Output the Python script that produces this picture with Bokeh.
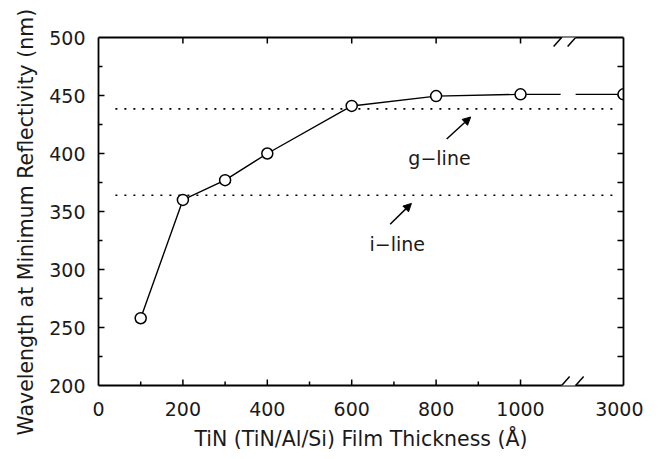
from bokeh.plotting import figure
from bokeh.models import (FixedTicker, LinearAxis, Label, Arrow, NormalHead,
                          BoxAnnotation, Range1d, CustomJSTickFormatter, Title)
from bokeh.embed import file_html
from bokeh.resources import INLINE

# ---- data ----
thickness = [100, 200, 300, 400, 600, 800, 1000, 3000]      # Å
wavelength = [258, 360, 377, 400, 441, 449.5, 451, 451]     # nm
g_line = 438.5   # nm
i_line = 364     # nm
x_tick_labels = ["0", "200", "400", "600", "800", "1000", "3000"]
x_title = "TiN (TiN/Al/Si) Film Thickness (Å)"
y_title = "Wavelength at Minimum Reflectivity (nm)"

# ---- broken axis: values up to 1000 are linear, 3000 sits at the right edge ----
XEND = 1244          # display position of 3000
BREAK_X = 1114       # position of the axis break
def xmap(v):
    return v if v <= 1000 else XEND

FRAME_W, FRAME_H = 525, 348
YMIN, YMAX = 200, 500
ux = XEND / FRAME_W
uy = (YMAX - YMIN) / FRAME_H

FONT = "DejaVu Sans"
TXT = "#1a1a1a"

p = figure(frame_width=FRAME_W, frame_height=FRAME_H,
           x_range=Range1d(0, XEND), y_range=Range1d(YMIN, YMAX),
           output_backend="svg", toolbar_location=None,
           min_border_left=98, min_border_top=37, min_border_right=20, min_border_bottom=66)
p.outline_line_color = None
p.xgrid.visible = False
p.ygrid.visible = False
p.background_fill_color = "white"
p.border_fill_color = "white"

xt_major = [0, 200, 400, 600, 800, 1000, XEND]
xt_minor = [100, 300, 500, 700, 900]
top_ticks = [200, 400, 600, 800, 1000]
yt_major = [200, 250, 300, 350, 400, 450, 500]
yt_minor = [225, 275, 325, 375, 425, 475]

def style_axis(ax):
    ax.axis_line_width = 1.8
    ax.axis_line_color = "black"
    ax.major_tick_in = 0
    ax.major_tick_out = 0
    ax.minor_tick_in = 0
    ax.minor_tick_out = 0
    ax.major_label_text_font = FONT
    ax.major_label_text_font_size = "19px"
    ax.major_label_text_color = TXT
    ax.axis_label_text_font = FONT
    ax.axis_label_text_font_size = "20.5px"
    ax.axis_label_text_font_style = "normal"
    ax.axis_label_text_color = TXT

xa = p.xaxis[0]
xa.ticker = FixedTicker(ticks=xt_major, minor_ticks=xt_minor)
xa.major_label_overrides = {t: lab for t, lab in zip(xt_major, x_tick_labels)}
xa.axis_label = x_title
style_axis(xa)
xa.major_label_standoff = 16
xa.axis_label_standoff = 8

ya = p.yaxis[0]
ya.ticker = FixedTicker(ticks=yt_major, minor_ticks=yt_minor)
style_axis(ya)
ya.major_label_standoff = 13

blank = CustomJSTickFormatter(code="return ''")
top = LinearAxis(ticker=FixedTicker(ticks=top_ticks, minor_ticks=[]), formatter=blank)
style_axis(top)
top.major_label_text_font_size = "0px"
top.major_label_standoff = 0
p.add_layout(top, "above")

right = LinearAxis(ticker=FixedTicker(ticks=yt_major, minor_ticks=yt_minor), formatter=blank)
style_axis(right)
right.major_label_text_font_size = "0px"
right.major_label_standoff = 0
p.add_layout(right, "right")

# y-axis title as a side title so that it can be shifted along the axis
p.add_layout(Title(text=y_title, align="left", offset=-50, standoff=18,
                   text_font=FONT, text_font_size="20.5px", text_font_style="normal",
                   text_color=TXT), "left")

# inward tick marks (drawn as segments inside the frame)
TK = dict(line_color="black", line_width=1.5)
maj, mnr = 6, 4
bx = xt_major[1:-1] + xt_minor
blen = [maj] * (len(xt_major) - 2) + [mnr] * len(xt_minor)
p.segment(x0=bx, y0=[YMIN] * len(bx), x1=bx, y1=[YMIN + l * uy for l in blen], **TK)
p.segment(x0=top_ticks, y0=[YMAX] * len(top_ticks), x1=top_ticks,
          y1=[YMAX - maj * uy] * len(top_ticks), **TK)
ly = yt_major[1:-1] + yt_minor
llen = [maj] * (len(yt_major) - 2) + [mnr] * len(yt_minor)
p.segment(x0=[0] * len(ly), y0=ly, x1=[l * ux for l in llen], y1=ly, **TK)
p.segment(x0=[XEND] * len(ly), y0=ly, x1=[XEND - maj * ux] * len(ly), y1=ly, **TK)

# reference lines
p.line([40, 1230], [g_line, g_line], line_color="black", line_width=1.6, line_dash="2 7")
p.line([40, 1230], [i_line, i_line], line_color="black", line_width=1.6, line_dash="2 7")

# data
xs = [xmap(v) for v in thickness]
p.line(xs, wavelength, line_color="black", line_width=1.4)
# gap in the data line at the axis break
p.add_layout(BoxAnnotation(left=BREAK_X - 8 * ux, right=BREAK_X + 7 * ux,
                           bottom=wavelength[-1] - 6, top=wavelength[-1] + 6,
                           fill_color="white", fill_alpha=1, line_color=None))
p.scatter(xs, wavelength, size=11, marker="circle", fill_color="white",
          line_color="black", line_width=1.5)

# axis-break marks on top and bottom axes
for Y in (YMIN, YMAX):
    p.add_layout(Arrow(x_start=BREAK_X - 7 * ux, y_start=Y, x_end=BREAK_X + 7 * ux, y_end=Y,
                       end=None, line_color="white", line_width=5, level="overlay"))
    for off in (-7, 7):
        c = BREAK_X + off * ux
        p.add_layout(Arrow(x_start=c - 8 * ux, y_start=Y - 9 * uy,
                           x_end=c + 8 * ux, y_end=Y + 9 * uy,
                           end=None, line_color="black", line_width=1.5, level="overlay"))

# annotations
p.add_layout(Label(x=808, y=396, text="g−line", text_font=FONT, text_font_size="19px",
                   text_color=TXT, text_align="center", text_baseline="middle"))
p.add_layout(Label(x=708, y=322, text="i−line", text_font=FONT, text_font_size="19px",
                   text_color=TXT, text_align="center", text_baseline="middle"))
p.add_layout(Arrow(x_start=825, y_start=412.5, x_end=882, y_end=431.5,
                   end=NormalHead(size=8, fill_color="black", line_color="black"),
                   line_color="black", line_width=1.5))
p.add_layout(Arrow(x_start=691, y_start=339, x_end=741.5, y_end=357,
                   end=NormalHead(size=8, fill_color="black", line_color="black"),
                   line_color="black", line_width=1.5))

open("out.html", "w").write(file_html(p, INLINE))
